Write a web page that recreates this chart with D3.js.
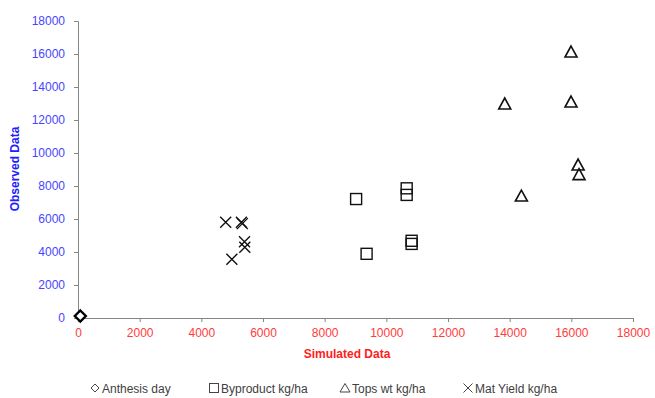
<!DOCTYPE html>
<html><head><meta charset="utf-8">
<script src="https://cdn.jsdelivr.net/npm/d3@7"></script>
<style>body{margin:0;background:#fff}svg{display:block}text{font-family:"Liberation Sans",Arial,sans-serif}</style>
</head><body><svg id="c" width="655" height="398"></svg>
<script>
const xTicks=[0,2000,4000,6000,8000,10000,12000,14000,16000,18000];
const yTicks=[0,2000,4000,6000,8000,10000,12000,14000,16000,18000];
const anthesisX=[75], anthesisY=[120];
const byproductX=[9020,9360,10660,10660,10820,10820];
const byproductY=[7210,3890,7860,7460,4680,4490];
const topsX=[15990,13840,15990,16220,16250,14380];
const topsY=[16120,12970,13090,9270,8690,7390];
const yieldX=[4790,5300,5330,5400,5410,4990];
const yieldY=[5800,5800,5720,4620,4290,3560];
const legendLabels=["Anthesis day","Byproduct kg/ha","Tops wt kg/ha","Mat Yield kg/ha"];

const svg=d3.select("#c");
const x=d3.scaleLinear().domain([0,18000]).range([78,633]);
const y=d3.scaleLinear().domain([0,18000]).range([318,21]);
const axisCol="#868686";
const gx=svg.append("g").attr("transform","translate(0,318)").call(d3.axisBottom(x).tickValues(xTicks).tickSize(4).tickPadding(6).tickFormat(d3.format("d")));
const gy=svg.append("g").attr("transform","translate(78,0)").call(d3.axisLeft(y).tickValues(yTicks).tickSize(4).tickPadding(9).tickFormat(d3.format("d")));
[gx,gy].forEach(g=>{g.select(".domain").attr("stroke",axisCol);g.selectAll(".tick line").attr("stroke",axisCol);g.selectAll("text").attr("font-size",12).attr("font-family","Liberation Sans, Arial, sans-serif");});
gx.selectAll("text").attr("fill","#ff3b3b");
gy.selectAll("text").attr("fill","#4646ff");

svg.append("text").attr("x",347).attr("y",358).attr("text-anchor","middle").attr("font-size",12).attr("font-weight","bold").attr("fill","#ff2020").text("Simulated Data");
svg.append("text").attr("transform","translate(19,169) rotate(-90)").attr("text-anchor","middle").attr("font-size",12).attr("font-weight","bold").attr("fill","#2020ff").text("Observed Data");

const g=svg.append("g");
function drawMarker(sel,kind){
  if(kind===0) sel.append("path").attr("d","M0,-5.5L5.5,0L0,5.5L-5.5,0Z").attr("fill","#fff").attr("stroke","#000").attr("stroke-width",2.4);
  else if(kind===1) sel.append("rect").attr("x",-5.5).attr("y",-5.5).attr("width",11).attr("height",11).attr("fill","none").attr("stroke","#111").attr("stroke-width",1.4);
  else if(kind===2) sel.append("path").attr("d","M0,-6L6,5L-6,5Z").attr("fill","none").attr("stroke","#111").attr("stroke-width",1.6);
  else sel.append("path").attr("d","M-5.5,-5.5L5.5,5.5M-5.5,5.5L5.5,-5.5").attr("stroke","#111").attr("stroke-width",1.4);
}
const series=[[anthesisX,anthesisY],[byproductX,byproductY],[topsX,topsY],[yieldX,yieldY]];
[1,2,3,0].forEach(k=>{
  const [xs,ys]=series[k];
  xs.forEach((v,i)=>{const m=g.append("g").attr("transform",`translate(${x(v)},${y(ys[i])})`);drawMarker(m,k);});
});

// legend
const legX=[95,214,345,468];
legendLabels.forEach((t,i)=>{
  const lg=svg.append("g").attr("transform",`translate(${legX[i]},388)`);
  if(i===0) lg.append("path").attr("d","M0,-4L4,0L0,4L-4,0Z").attr("fill","none").attr("stroke","#444").attr("stroke-width",1);
  else if(i===1) lg.append("rect").attr("x",-4.5).attr("y",-4.5).attr("width",9).attr("height",9).attr("fill","none").attr("stroke","#444").attr("stroke-width",1);
  else if(i===2) lg.append("path").attr("d","M0,-4.5L5,4L-5,4Z").attr("fill","none").attr("stroke","#444").attr("stroke-width",1);
  else lg.append("path").attr("d","M-4.5,-4.5L4.5,4.5M-4.5,4.5L4.5,-4.5").attr("stroke","#444").attr("stroke-width",1);
  lg.append("text").attr("x",7).attr("y",4.5).attr("font-size",12).attr("fill","#404040").text(t);
});
</script></body></html>
